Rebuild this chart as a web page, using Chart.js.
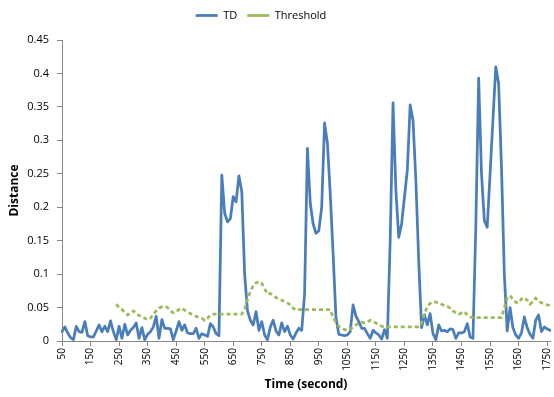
<!DOCTYPE html>
<html><head><meta charset="utf-8">
<script src="https://cdn.jsdelivr.net/npm/chart.js@4/dist/chart.umd.min.js"></script>
<style>html,body{margin:0;padding:0;background:#fff;}canvas{display:block;}</style>
</head><body>
<canvas id="c" width="554" height="397"></canvas>
<script>
const times = [
  50,60,70,80,90,100,110,120,130,140,
  150,160,170,180,190,200,210,220,230,240,
  250,260,270,280,290,300,310,320,330,340,
  350,360,370,380,390,400,410,420,430,440,
  450,460,470,480,490,500,510,520,530,540,
  550,560,570,580,590,600,610,620,630,640,
  650,660,670,680,690,700,710,720,730,740,
  750,760,770,780,790,800,810,820,830,840,
  850,860,870,880,890,900,910,920,930,940,
  950,960,970,980,990,1000,1010,1020,1030,1040,
  1050,1060,1070,1080,1090,1100,1110,1120,1130,1140,
  1150,1160,1170,1180,1190,1200,1210,1220,1230,1240,
  1250,1260,1270,1280,1290,1300,1310,1320,1330,1340,
  1350,1360,1370,1380,1390,1400,1410,1420,1430,1440,
  1450,1460,1470,1480,1490,1500,1510,1520,1530,1540,
  1550,1560,1570,1580,1590,1600,1610,1620,1630,1640,
  1650,1660,1670,1680,1690,1700,1710,1720,1730,1740,
  1750,1760
];
const td = [
  0.014,0.021,0.012,0.005,0.002,0.022,0.014,0.013,0.029,0.008,
  0.006,0.006,0.015,0.024,0.014,0.022,0.014,0.030,0.014,0.002,
  0.022,0.004,0.025,0.009,0.016,0.020,0.027,0.004,0.020,0.002,
  0.010,0.014,0.021,0.037,0.004,0.032,0.019,0.019,0.018,0.002,
  0.015,0.029,0.016,0.024,0.012,0.011,0.011,0.019,0.004,0.011,
  0.009,0.007,0.026,0.021,0.011,0.008,0.248,0.191,0.178,0.183,
  0.216,0.208,0.247,0.223,0.100,0.045,0.031,0.024,0.044,0.016,
  0.029,0.009,0.002,0.021,0.031,0.015,0.009,0.027,0.014,0.022,
  0.009,0.003,0.012,0.019,0.016,0.070,0.288,0.206,0.175,0.161,
  0.165,0.200,0.326,0.296,0.220,0.130,0.035,0.010,0.009,0.008,
  0.009,0.014,0.054,0.037,0.029,0.019,0.019,0.011,0.004,0.016,
  0.012,0.009,0.003,0.017,0.004,0.150,0.356,0.225,0.155,0.175,
  0.215,0.255,0.353,0.330,0.240,0.120,0.020,0.039,0.024,0.041,
  0.011,0.002,0.024,0.015,0.016,0.014,0.018,0.017,0.004,0.012,
  0.012,0.014,0.026,0.006,0.004,0.170,0.393,0.250,0.180,0.170,
  0.250,0.330,0.410,0.385,0.260,0.100,0.015,0.050,0.020,0.009,
  0.004,0.012,0.036,0.020,0.010,0.004,0.031,0.039,0.014,0.021,
  0.018,0.016
];
const threshold = [
  null,null,null,null,null,null,null,null,null,null,
  null,null,null,null,null,null,null,null,null,0.055,
  0.050,0.047,0.043,0.039,0.042,0.045,0.041,0.038,0.037,0.034,
  0.032,0.034,0.040,0.045,0.049,0.051,0.052,0.050,0.045,0.042,
  0.044,0.047,0.049,0.046,0.043,0.041,0.039,0.037,0.035,0.034,
  0.031,0.034,0.039,0.040,0.040,0.040,0.040,0.040,0.040,0.040,
  0.040,0.040,0.040,0.040,0.048,0.062,0.074,0.083,0.087,0.089,
  0.086,0.078,0.070,0.071,0.068,0.065,0.063,0.061,0.059,0.057,
  0.054,0.049,0.046,0.047,0.047,0.047,0.047,0.047,0.047,0.047,
  0.047,0.047,0.047,0.047,0.047,0.035,0.028,0.022,0.019,0.017,
  0.016,0.017,0.021,0.024,0.027,0.028,0.027,0.028,0.031,0.029,
  0.027,0.024,0.022,0.021,0.021,0.021,0.021,0.021,0.021,0.021,
  0.021,0.021,0.021,0.021,0.021,0.021,0.027,0.040,0.052,0.056,
  0.059,0.058,0.057,0.055,0.053,0.052,0.049,0.045,0.042,0.040,
  0.042,0.044,0.039,0.036,0.035,0.035,0.035,0.035,0.035,0.035,
  0.035,0.035,0.035,0.035,0.035,0.050,0.064,0.068,0.062,0.058,
  0.057,0.063,0.065,0.061,0.055,0.059,0.064,0.060,0.057,0.055,
  0.054,0.053
];
const seriesNames = ['TD', 'Threshold'];
const xTitle = 'Time (second)';
const yTitle = 'Distance';

Chart.defaults.font.family = "'Open Sans', sans-serif";
Chart.defaults.color = '#000';

const legendHeightPlugin = {
  id: 'legendHeight',
  beforeLayout(chart) {
    const lg = chart.legend;
    if (lg && !lg._patched) {
      const f = lg.fit;
      lg.fit = function () { f.call(this); this.height = 40; };
      lg._patched = true;
    }
  },
  afterLayout(chart) {
    const lg = chart.legend;
    if (lg) { lg.left -= 14; lg.right -= 14; }
  }
};

new Chart(document.getElementById('c'), {
  type: 'line',
  data: {
    labels: times,
    datasets: [
      { label: seriesNames[0], data: td, order: 1,
        borderColor: '#4A7EBB', backgroundColor: '#4A7EBB', borderWidth: 2.75,
        pointRadius: 0, tension: 0, borderJoinStyle: 'round', borderCapStyle: 'round' },
      { label: seriesNames[1], data: threshold, order: 0,
        borderColor: '#9BBB59', backgroundColor: '#9BBB59', borderWidth: 2.75,
        borderDash: [4, 3], pointRadius: 0, tension: 0 }
    ]
  },
  options: {
    responsive: false, animation: false, devicePixelRatio: 1,
    layout: { padding: { left: 0, right: 4, top: 0, bottom: 0 } },
    plugins: {
      legend: { position: 'top',
        labels: { usePointStyle: true, pointStyle: 'line', pointStyleWidth: 22,
                  font: { size: 11 }, color: '#000', padding: 10,
                  sort: (a, b) => a.datasetIndex - b.datasetIndex } },
      tooltip: { enabled: false }
    },
    scales: {
      x: {
        type: 'category', offset: false,
        grid: { display: true, drawOnChartArea: false, drawTicks: true, tickLength: 5, color: '#868686' },
        border: { display: true, color: '#868686', width: 1 },
        ticks: { autoSkip: false, minRotation: 90, maxRotation: 90, padding: 2, font: { size: 10 }, color: '#000' },
        afterBuildTicks: s => { s.ticks = s.ticks.filter(t => t.value % 10 === 0); },
        title: { display: true, text: xTitle, font: { size: 12, weight: 'bold' }, padding: { top: 0, bottom: 5 } },
        afterFit: s => { s.height = 56; s.paddingRight = 0; s.paddingLeft = 0; }
      },
      y: {
        min: 0, max: 0.45,
        ticks: { stepSize: 0.05, padding: 8, font: { size: 11 }, color: '#000',
                 callback: v => String(+v.toFixed(2)) },
        grid: { drawOnChartArea: false, tickLength: 5, color: '#868686' },
        border: { display: true, color: '#868686', width: 1 },
        title: { display: true, text: yTitle, font: { size: 12, weight: 'bold' }, padding: { top: 7, bottom: 0 } },
        afterFit: s => { s.width = 62; }
      }
    }
  },
  plugins: [legendHeightPlugin]
});
</script>
</body></html>
